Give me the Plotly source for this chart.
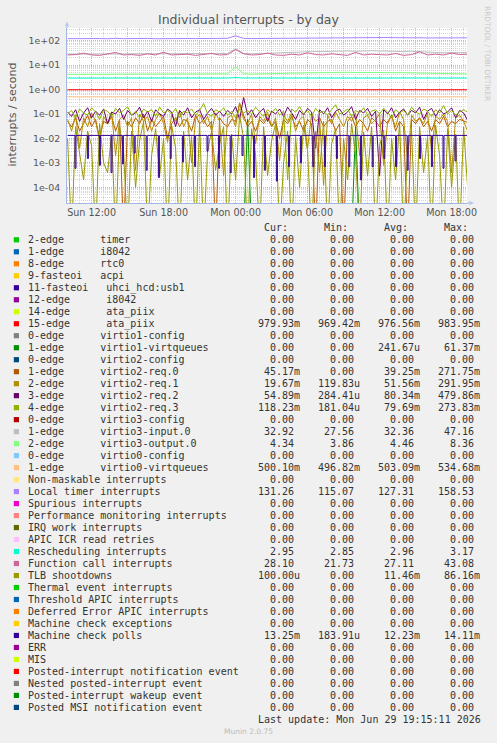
import pandas as pd
import plotly.graph_objects as go

# ---------------- data ----------------
X_START = "2026-06-28 09:57"
X_END = "2026-06-29 19:17"
T0 = "2026-06-28 10:00"

x_tick_vals = ["2026-06-28 12:00", "2026-06-28 15:00", "2026-06-28 18:00", "2026-06-28 21:00",
               "2026-06-29 00:00", "2026-06-29 03:00", "2026-06-29 06:00", "2026-06-29 09:00",
               "2026-06-29 12:00", "2026-06-29 15:00", "2026-06-29 18:00"]
x_tick_text = ["Sun 12:00", "", "Sun 18:00", "", "Mon 00:00", "", "Mon 06:00", "",
               "Mon 12:00", "", "Mon 18:00"]
y_tick_vals = [1e-4, 1e-3, 1e-2, 1e-1, 1e0, 1e1, 1e2]
y_tick_text = ["1e-04", "1e-03", "1e-02", "1e-01", "1e+00", "1e+01", "1e+02"]

# 40-minute samples
local_timer = [121, 123, 119, 124, 122, 120, 125, 121, 123, 122,
               124, 120, 122, 126, 121, 123, 122, 124, 121, 123,
               125, 158, 124, 122, 123, 125, 124, 127, 126, 128,
               130, 129, 131, 133, 132, 135, 134, 138, 136, 133,
               135, 132, 134, 130, 131, 129, 128, 131, 127, 134, 131]
function_call = [26, 27, 31, 26, 25, 28, 33, 26, 27, 25,
                 29, 26, 34, 26, 27, 28, 25, 27, 30, 26,
                 27, 43, 29, 26, 27, 31, 26, 25, 28, 26,
                 32, 27, 26, 29, 27, 25, 33, 26, 28, 27,
                 26, 30, 25, 27, 35, 26, 28, 26, 31, 27, 28]
virtio3_input = [28, 28, 29, 28, 28, 28, 29, 28, 28, 28,
                 29, 28, 28, 29, 28, 28, 28, 29, 28, 29,
                 30, 47, 30, 29, 30, 31, 31, 32, 33, 34,
                 35, 36, 36, 37, 38, 38, 37, 39, 39, 38,
                 37, 38, 36, 37, 35, 34, 33, 32, 32, 31, 33]
virtio3_output = [4.2, 4.2, 4.3, 4.2, 4.3, 4.2, 4.2, 4.3, 4.2, 4.2,
                  4.3, 4.2, 4.2, 4.3, 4.2, 4.3, 4.2, 4.2, 4.3, 4.3,
                  4.4, 8.4, 4.4, 4.3, 4.3, 4.4, 4.5, 4.6, 4.7, 4.8,
                  4.9, 5.0, 5.0, 5.1, 5.0, 5.1, 5.0, 5.1, 5.0, 5.0,
                  4.9, 5.0, 4.9, 4.8, 4.8, 4.7, 4.6, 4.5, 4.5, 4.4, 4.3]
rescheduling = [2.95, 2.96, 2.94, 2.97, 2.95, 2.95, 2.98, 2.95, 2.94, 2.96,
                2.95, 2.97, 2.95, 2.94, 2.96, 2.95, 2.95, 2.97, 2.95, 2.96,
                2.95, 3.10, 2.96, 2.95, 2.94, 2.96, 2.95, 2.97, 2.96, 2.95,
                2.98, 2.96, 2.95, 2.97, 2.96, 2.95, 2.96, 2.98, 2.95, 2.96,
                2.95, 2.97, 2.96, 2.95, 2.96, 2.95, 2.97, 2.95, 2.96, 2.95, 2.95]
ata_piix_15 = [0.98, 0.98, 0.97, 0.98, 0.98, 0.98, 0.98, 0.97, 0.98, 0.98,
               0.98, 0.98, 0.97, 0.98, 0.98, 0.98, 0.98, 0.98, 0.97, 0.98,
               0.98, 0.98, 0.98, 0.97, 0.98, 0.98, 0.98, 0.98, 0.97, 0.98,
               0.98, 0.98, 0.98, 0.98, 0.97, 0.98, 0.98, 0.98, 0.97, 0.98,
               0.98, 0.98, 0.98, 0.97, 0.98, 0.98, 0.98, 0.98, 0.97, 0.98, 0.98]
virtio0_vq = [0.50, 0.50, 0.50, 0.51, 0.50, 0.50, 0.50, 0.50, 0.51, 0.50,
              0.50, 0.50, 0.50, 0.50, 0.51, 0.50, 0.50, 0.50, 0.50, 0.50,
              0.51, 0.53, 0.50, 0.50, 0.50, 0.51, 0.50, 0.50, 0.50, 0.51,
              0.50, 0.50, 0.51, 0.50, 0.50, 0.50, 0.51, 0.50, 0.50, 0.50,
              0.51, 0.50, 0.50, 0.50, 0.51, 0.50, 0.50, 0.51, 0.50, 0.50, 0.50]

# 20-minute samples
virtio2_req0 = [0.05, 0.03, 0.07, 0.02, 0.04, 0.09, 0.03, 0.06, 0.01, 0.05,
                0.04, 0.08, 0.02, 0.06, 0.0, 0.05, 0.03, 0.07, 0.04, 0.10,
                0.02, 0.06, 0.03, 0.05, 0.08, 0.01, 0.04, 0.07, 0.03, 0.06,
                0.05, 0.02, 0.09, 0.04, 0.06, 0.03, 0.05, 0.0, 0.07, 0.04,
                0.03, 0.06, 0.05, 0.27, 0.08, 0.03, 0.05, 0.02, 0.06, 0.04,
                0.07, 0.03, 0.05, 0.01, 0.06, 0.04, 0.08, 0.03, 0.05, 0.02,
                0.06, 0.04, 0.0, 0.07, 0.03, 0.05, 0.06, 0.02, 0.04, 0.0,
                0.05, 0.08, 0.03, 0.06, 0.04, 0.02, 0.07, 0.05, 0.03, 0.06,
                0.04, 0.09, 0.02, 0.05, 0.03, 0.0, 0.06, 0.04, 0.07, 0.03,
                0.05, 0.02, 0.06, 0.04, 0.08, 0.03, 0.05, 0.04, 0.06, 0.05, 0.045]
virtio2_req1 = [0.06, 0.02, 0.09, 0.004, 0.07, 0.03, 0.11, 0.05, 0.008, 0.08,
                0.04, 0.12, 0.002, 0.06, 0.09, 0.03, 0.07, 0.0005, 0.10, 0.05,
                0.08, 0.02, 0.06, 0.11, 0.04, 0.007, 0.09, 0.05, 0.13, 0.03,
                0.07, 0.001, 0.06, 0.10, 0.04, 0.08, 0.02, 0.11, 0.05, 0.0003,
                0.07, 0.09, 0.03, 0.29, 0.06, 0.04, 0.10, 0.006, 0.08, 0.05,
                0.12, 0.03, 0.07, 0.0012, 0.09, 0.05, 0.11, 0.02, 0.06, 0.08,
                0.004, 0.10, 0.05, 0.07, 0.00012, 0.09, 0.04, 0.12, 0.06, 0.03,
                0.08, 0.05, 0.11, 0.002, 0.07, 0.09, 0.04, 0.06, 0.10, 0.0008,
                0.05, 0.08, 0.03, 0.12, 0.06, 0.0015, 0.09, 0.05, 0.07, 0.04,
                0.11, 0.003, 0.08, 0.06, 0.10, 0.05, 0.0004, 0.07, 0.09, 0.05, 0.02]
virtio2_req2 = [0.12, 0.08, 0.15, 0.05, 0.11, 0.18, 0.07, 0.13, 0.09, 0.16,
                0.04, 0.12, 0.10, 0.17, 0.06, 0.14, 0.09, 0.11, 0.19, 0.07,
                0.13, 0.05, 0.15, 0.10, 0.08, 0.16, 0.12, 0.03, 0.14, 0.09,
                0.18, 0.07, 0.12, 0.15, 0.06, 0.11, 0.17, 0.09, 0.13, 0.08,
                0.14, 0.10, 0.20, 0.06, 0.48, 0.09, 0.15, 0.07, 0.12, 0.17,
                0.05, 0.13, 0.10, 0.16, 0.08, 0.19, 0.11, 0.06, 0.14, 0.09,
                0.17, 0.12, 0.004, 0.15, 0.10, 0.18, 0.07, 0.13, 0.16, 0.09,
                0.12, 0.20, 0.06, 0.14, 0.11, 0.17, 0.08, 0.13, 0.0003, 0.15,
                0.10, 0.18, 0.07, 0.12, 0.16, 0.09, 0.14, 0.11, 0.19, 0.06,
                0.13, 0.17, 0.08, 0.15, 0.10, 0.12, 0.18, 0.07, 0.14, 0.11, 0.055]
virtio2_req3 = [0.10, 0.14, 0.07, 0.16, 0.11, 0.09, 0.18, 0.12, 0.06, 0.15,
                0.13, 0.08, 0.17, 0.11, 0.14, 0.20, 0.09, 0.13, 0.07, 0.16,
                0.12, 0.15, 0.08, 0.19, 0.11, 0.14, 0.10, 0.17, 0.07, 0.13,
                0.11, 0.16, 0.09, 0.14, 0.27, 0.10, 0.08, 0.15, 0.12, 0.18,
                0.09, 0.13, 0.07, 0.16, 0.11, 0.14, 0.10, 0.19, 0.12, 0.08,
                0.15, 0.11, 0.17, 0.09, 0.13, 0.0002, 0.16, 0.12, 0.20, 0.10,
                0.14, 0.08, 0.17, 0.11, 0.13, 0.09, 0.15, 0.24, 0.10, 0.12,
                0.16, 0.08, 0.14, 0.11, 0.18, 0.09, 0.13, 0.15, 0.10, 0.17,
                0.12, 0.07, 0.15, 0.11, 0.14, 0.09, 0.19, 0.12, 0.10, 0.16,
                0.13, 0.08, 0.15, 0.11, 0.22, 0.10, 0.14, 0.09, 0.12, 0.15, 0.118]
tlb_shootdowns = [0.01, 0.0, 0.03, 0.002, 0.0002, 0.02, 0.005, 0.0, 0.04, 0.001,
                  0.0004, 0.015, 0.0, 0.03, 0.003, 0.0, 0.02, 0.0001, 0.008, 0.05,
                  0.0, 0.002, 0.025, 0.0003, 0.01, 0.0, 0.035, 0.004, 0.0, 0.02,
                  0.0002, 0.012, 0.0, 0.045, 0.0, 0.003, 0.02, 0.0005, 0.006, 0.03,
                  0.0, 0.015, 0.0002, 0.086, 0.01, 0.0, 0.025, 0.002, 0.0, 0.03,
                  0.0003, 0.008, 0.04, 0.0, 0.001, 0.02, 0.0, 0.012, 0.0001, 0.035,
                  0.003, 0.0, 0.02, 0.0004, 0.05, 0.0, 0.006, 0.025, 0.0, 0.01,
                  0.0002, 0.04, 0.002, 0.0, 0.018, 0.0003, 0.03, 0.0, 0.005, 0.022,
                  0.0, 0.01, 0.0002, 0.045, 0.0, 0.004, 0.02, 0.0, 0.03, 0.0004,
                  0.012, 0.0, 0.035, 0.002, 0.0, 0.025, 0.0001, 0.015, 0.0, 0.03, 0.0001]
virtio1_vq = [0.0] * 45 + [0.061] + [0.0] * 26 + [0.03] + [0.0] * 28

# machine check polls: steady level with short hourly dips
mcp_level = 0.0133
mcp_dip_times = ["2026-06-28 10:37", "2026-06-28 11:39", "2026-06-28 12:39", "2026-06-28 13:37",
                 "2026-06-28 14:34", "2026-06-28 15:33", "2026-06-28 16:33", "2026-06-28 17:34",
                 "2026-06-28 18:33", "2026-06-28 19:34", "2026-06-28 20:35", "2026-06-28 21:37",
                 "2026-06-28 22:35", "2026-06-28 23:33", "2026-06-29 00:32", "2026-06-29 01:30",
                 "2026-06-29 02:24", "2026-06-29 03:24", "2026-06-29 04:25", "2026-06-29 05:24",
                 "2026-06-29 06:26", "2026-06-29 07:24", "2026-06-29 08:24", "2026-06-29 09:26",
                 "2026-06-29 10:24", "2026-06-29 11:23", "2026-06-29 12:21", "2026-06-29 13:20",
                 "2026-06-29 14:18", "2026-06-29 15:20", "2026-06-29 16:19", "2026-06-29 17:17",
                 "2026-06-29 18:17"]
mcp_dip_values = [6e-4, 1.5e-3, 8e-4, 4e-4, 9e-4, 2.5e-3, 5e-4, 2.5e-4, 1.5e-3, 1.1e-3,
                  7e-4, 3e-3, 6e-4, 4e-4, 2e-3, 2.5e-4, 5e-4, 1.8e-4, 7e-4, 1e-3,
                  7e-4, 7e-4, 1.5e-3, 7e-4, 2e-4, 7e-4, 1.5e-3, 7e-4, 5e-4, 1.5e-3,
                  7e-4, 6e-4, 1.2e-3]

# legend table
legend_labels = ["2-edge      timer", "1-edge      i8042", "8-edge      rtc0", "9-fasteoi   acpi",
                 "11-fasteoi   uhci_hcd:usb1", "12-edge      i8042", "14-edge      ata_piix",
                 "15-edge      ata_piix", "0-edge      virtio1-config", "1-edge      virtio1-virtqueues",
                 "0-edge      virtio2-config", "1-edge      virtio2-req.0", "2-edge      virtio2-req.1",
                 "3-edge      virtio2-req.2", "4-edge      virtio2-req.3", "0-edge      virtio3-config",
                 "1-edge      virtio3-input.0", "2-edge      virtio3-output.0", "0-edge      virtio0-config",
                 "1-edge      virtio0-virtqueues", "Non-maskable interrupts", "Local timer interrupts",
                 "Spurious interrupts", "Performance monitoring interrupts", "IRQ work interrupts",
                 "APIC ICR read retries", "Rescheduling interrupts", "Function call interrupts",
                 "TLB shootdowns", "Thermal event interrupts", "Threshold APIC interrupts",
                 "Deferred Error APIC interrupts", "Machine check exceptions", "Machine check polls",
                 "ERR", "MIS", "Posted-interrupt notification event", "Nested posted-interrupt event",
                 "Posted-interrupt wakeup event", "Posted MSI notification event"]
legend_colors = ["#00CC00", "#0066B3", "#FF8000", "#FFCC00", "#330099", "#990099", "#CCFF00", "#FF0000",
                 "#808080", "#008F00", "#00487D", "#B35A00", "#B38F00", "#6B006B", "#8FB300", "#B30000",
                 "#BEBEBE", "#80FF80", "#80C9FF", "#FFC080", "#FFE680", "#AA80FF", "#EE00CC", "#FF8080",
                 "#666600", "#FFBFFF", "#00FFCC", "#CC6699", "#999900", "#00CC00", "#0066B3", "#FF8000",
                 "#FFCC00", "#330099", "#990099", "#CCFF00", "#FF0000", "#808080", "#008F00", "#00487D"]
Z = "0.00"
cur_vals = [Z, Z, Z, Z, Z, Z, Z, "979.93m", Z, Z, Z, "45.17m", "19.67m", "54.89m", "118.23m", Z,
            "32.92", "4.34", Z, "500.10m", Z, "131.26", Z, Z, Z, Z, "2.95", "28.10", "100.00u",
            Z, Z, Z, Z, "13.25m", Z, Z, Z, Z, Z, Z]
min_vals = [Z, Z, Z, Z, Z, Z, Z, "969.42m", Z, Z, Z, Z, "119.83u", "284.41u", "181.04u", Z,
            "27.56", "3.86", Z, "496.82m", Z, "115.07", Z, Z, Z, Z, "2.85", "21.73", Z,
            Z, Z, Z, Z, "183.91u", Z, Z, Z, Z, Z, Z]
avg_vals = [Z, Z, Z, Z, Z, Z, Z, "976.56m", Z, "241.67u", Z, "39.25m", "51.56m", "80.34m", "79.69m", Z,
            "32.36", "4.46", Z, "503.09m", Z, "127.31", Z, Z, Z, Z, "2.96", "27.11", "11.46m",
            Z, Z, Z, Z, "12.23m", Z, Z, Z, Z, Z, Z]
max_vals = [Z, Z, Z, Z, Z, Z, Z, "983.95m", Z, "61.37m", Z, "271.75m", "291.95m", "479.86m", "273.83m", Z,
            "47.16", "8.36", Z, "534.68m", Z, "158.53", Z, Z, Z, Z, "3.17", "43.08", "86.16m",
            Z, Z, Z, Z, "14.11m", Z, Z, Z, Z, Z, Z]
value_headers = ["Cur:", "Min:", "Avg:", "Max:"]

# ---------------- figure ----------------
FLOOR = 1e-6  # zero values fall below the log axis like rrdtool


def times(n, step):
    return pd.date_range(T0, periods=n, freq=step)


def clean(vals):
    return [v if v > 0 else FLOOR for v in vals]


fig = go.Figure()


def add(vals, color, step):
    fig.add_trace(go.Scatter(x=times(len(vals), step), y=clean(vals), mode="lines",
                             line=dict(color=color, width=1), hoverinfo="skip"))


add(ata_piix_15, "#FF0000", "40min")
add(virtio1_vq, "#008F00", "20min")
add(virtio2_req0, "#B35A00", "20min")
add(virtio2_req1, "#B38F00", "20min")
add(virtio2_req2, "#6B006B", "20min")
add(virtio2_req3, "#8FB300", "20min")
add(virtio3_input, "#BEBEBE", "40min")
add(virtio3_output, "#80FF80", "40min")
add(virtio0_vq, "#FFC080", "40min")
add(local_timer, "#AA80FF", "40min")
add(rescheduling, "#00FFCC", "40min")
add(function_call, "#CC6699", "40min")
add(tlb_shootdowns, "#999900", "20min")

mcp_x = [pd.Timestamp(T0)]
mcp_y = [mcp_level]
for t, v in zip(mcp_dip_times, mcp_dip_values):
    ts = pd.Timestamp(t)
    mcp_x += [ts, ts + pd.Timedelta(minutes=5)]
    mcp_y += [v, mcp_level]
mcp_x.append(pd.Timestamp(X_END))
mcp_y.append(mcp_level)
fig.add_trace(go.Scatter(x=mcp_x, y=mcp_y, mode="lines", line=dict(color="#330099", width=1, shape="hv"),
                         hoverinfo="skip"))

# pixel frame of the plot area
L, R, TOP, BOT = 67, 467, 28, 203
W, H = 497, 743


def px(x):
    return (x - L) / (R - L)


def py(y):
    return (BOT - y) / (BOT - TOP)


AXC = "#A3B6E4"
MAJ = "#F2A7A7"
MIN = "#D4D4D4"

fig.update_layout(
    width=W, height=H,
    margin=dict(l=L, r=W - R, t=TOP, b=H - BOT, pad=0),
    paper_bgcolor="#F0F0F0", plot_bgcolor="#FFFFFF",
    showlegend=False, hovermode=False,
    font=dict(family="DejaVu Sans", color="#555555"),
    xaxis=dict(type="date", range=[X_START, X_END], tickmode="array",
               tickvals=x_tick_vals, ticktext=x_tick_text,
               showgrid=True, gridcolor=MAJ, griddash="1px,1px", gridwidth=1,
               minor=dict(dtick=3600000, tick0="2026-06-28 00:00", showgrid=True,
                          gridcolor=MIN, griddash="1px,1px", gridwidth=1),
               showline=True, linecolor=AXC, linewidth=1, ticks="", zeroline=False,
               tickfont=dict(size=9.6, color="#555555")),
    yaxis=dict(type="log", range=[-4.642, 2.519], tickmode="array",
               tickvals=y_tick_vals, ticktext=y_tick_text,
               showgrid=True, gridcolor=MAJ, griddash="1px,1px", gridwidth=1,
               minor=dict(dtick="D1", showgrid=True, gridcolor=MIN, griddash="1px,1px", gridwidth=1),
               showline=True, linecolor=AXC, linewidth=1, ticks="", zeroline=False,
               ticklabelstandoff=4,
               tickfont=dict(size=9.4, color="#555555")),
)

shapes = []
# axis extensions and arrows
shapes.append(dict(type="line", xref="paper", yref="paper", x0=0, x1=0, y0=1, y1=py(26),
                   line=dict(color=AXC, width=1)))
shapes.append(dict(type="path", xref="paper", yref="paper",
                   path=f"M {px(64.8)},{py(26.3)} L {px(69.2)},{py(26.3)} L {px(67)},{py(21.6)} Z",
                   fillcolor="#B9C8EE", line=dict(width=0)))
shapes.append(dict(type="line", xref="paper", yref="paper", x0=1, x1=px(469.5), y0=0, y1=0,
                   line=dict(color=AXC, width=1)))
shapes.append(dict(type="path", xref="paper", yref="paper",
                   path=f"M {px(469.3)},{py(200.8)} L {px(469.3)},{py(205.2)} L {px(474)},{py(203)} Z",
                   fillcolor="#B9C8EE", line=dict(width=0)))

ann = []
ann.append(dict(text="Individual interrupts - by day", x=px(248.7), y=py(19), xref="paper", yref="paper",
                showarrow=False, xanchor="center", yanchor="middle",
                font=dict(family="DejaVu Sans", size=12.5, color="#555555")))
ann.append(dict(text="interrupts / second", x=px(11.5), y=py(114), xref="paper", yref="paper",
                showarrow=False, textangle=-90, xanchor="center", yanchor="middle",
                font=dict(family="DejaVu Sans", size=11, color="#555555")))
ann.append(dict(text="RRDTOOL / TOBI OETIKER", x=px(487.5), y=py(53.5), xref="paper", yref="paper",
                showarrow=False, textangle=90, xanchor="center", yanchor="middle",
                font=dict(family="DejaVu Sans", size=7.4, color="#C8C8C8")))

MONO = "DejaVu Sans Mono"
TXT = "#333333"
NB = "\u00a0"
col_right = [302, 362, 422, 482]
for hdr, cx in zip(value_headers, col_right):
    ann.append(dict(text=hdr, x=px(cx - 12), y=py(227.3), xref="paper", yref="paper", showarrow=False,
                    xanchor="right", yanchor="middle", font=dict(family=MONO, size=10, color=TXT)))

for i, (lab, col) in enumerate(zip(legend_labels, legend_colors)):
    yy = 239.8 + 11.99 * i
    shapes.append(dict(type="rect", xref="paper", yref="paper", x0=px(13.8), x1=px(19), y0=py(yy - 2.6),
                       y1=py(yy + 2.6), fillcolor=col, line=dict(width=0)))
    ann.append(dict(text=lab.replace(" ", NB), x=px(25.5), y=py(yy), xref="paper", yref="paper",
                    showarrow=False, xanchor="left", yanchor="middle",
                    font=dict(family=MONO, size=10, color=TXT)))
    for vals, cx in zip([cur_vals, min_vals, avg_vals, max_vals], col_right):
        v = vals[i]
        if v[-1].isdigit():
            v = v + NB
        ann.append(dict(text=v, x=px(cx), y=py(yy), xref="paper", yref="paper", showarrow=False,
                        xanchor="right", yanchor="middle", font=dict(family=MONO, size=10, color=TXT)))

ann.append(dict(text="Last update:" + NB + "Mon" + NB + "Jun" + NB + "29" + NB + "19:15:11" + NB + "2026",
                x=px(483), y=py(719.7), xref="paper", yref="paper", showarrow=False,
                xanchor="right", yanchor="middle", font=dict(family=MONO, size=10, color=TXT)))
ann.append(dict(text="Munin 2.0.75", x=px(248), y=py(731.8), xref="paper", yref="paper", showarrow=False,
                xanchor="center", yanchor="middle", font=dict(family="DejaVu Sans", size=7.5, color="#BBBBBB")))

fig.update_layout(shapes=shapes, annotations=ann)
# remove the browser's default 8px page margin so the figure fills the window exactly
fig.write_html("out.html", config={"displayModeBar": False, "staticPlot": True},
               post_script="document.body.style.margin='0';")
